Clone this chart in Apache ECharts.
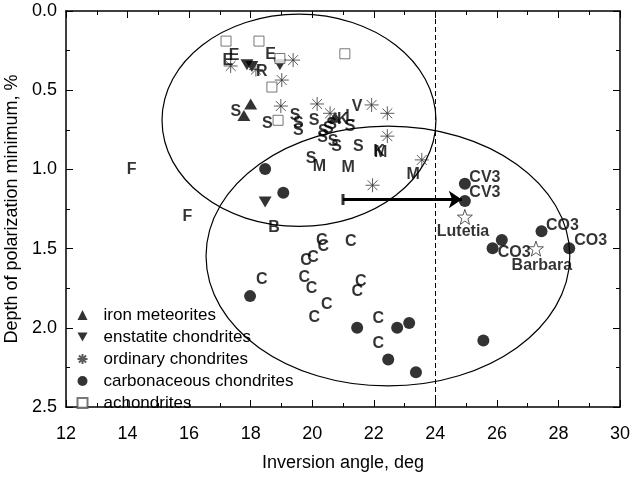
<!DOCTYPE html>
<html><head><meta charset="utf-8">
<script src="https://cdn.jsdelivr.net/npm/echarts@6.0.0/dist/echarts.min.js"></script>
<style>html,body{margin:0;padding:0;background:#fff}#c{width:631px;height:478px}</style>
</head><body><div id="c"></div>
<script>
// ---- data (x = inversion angle, deg; y = depth of polarization minimum, %) ----
const ironMeteorites = [[18.0,0.587],[17.78,0.66],[20.74,0.67]];
const enstatiteChondrites = [[17.88,0.34],[18.04,0.35],[18.95,0.34],[18.47,1.206]];
const ordinaryChondrites = [[17.35,0.347],[19.38,0.31],[19.01,0.436],[18.17,0.37],[18.98,0.60],[20.16,0.587],[20.58,0.646],[21.93,0.593],[22.44,0.646],[22.44,0.79],[23.56,0.94],[21.96,1.10]];
const carbonaceousChondrites = [[18.47,0.997],[19.06,1.147],[17.98,1.80],[21.46,2.0],[22.76,2.0],[23.15,1.97],[22.47,2.20],[23.37,2.28],[25.56,2.08],[24.96,1.09],[24.96,1.20],[26.16,1.446],[25.86,1.498],[27.45,1.39],[28.35,1.498]];
const achondrites = [[17.20,0.19],[18.27,0.19],[18.95,0.30],[21.06,0.27],[18.69,0.48],[18.89,0.69]];
const asteroids = [[24.96,1.30],[27.27,1.50]];
// taxonomic letters and names: [x, y, text]
const textLabels = [
  [17.26,0.31,'E'],[17.46,0.28,'E'],[18.65,0.278,'E'],[18.36,0.383,'R'],
  [17.52,0.636,'S'],[18.54,0.713,'S'],[19.44,0.663,'S'],[19.55,0.713,'S'],[19.55,0.756,'S'],[20.06,0.693,'S'],
  [20.36,0.762,'S'],[20.34,0.80,'S'],[20.52,0.74,'S'],[20.63,0.72,'S'],[20.68,0.825,'S'],[20.79,0.857,'S'],
  [21.23,0.73,'S'],[21.50,0.857,'S'],[19.96,0.93,'S'],
  [20.99,0.688,'K'],[21.23,0.667,'L'],[21.46,0.604,'V'],
  [22.17,0.89,'K'],[22.22,0.895,'M'],[20.23,0.98,'M'],[21.17,0.987,'M'],[23.28,1.03,'M'],
  [14.13,1.0,'F'],[15.94,1.30,'F'],[18.76,1.37,'B'],
  [20.31,1.45,'C'],[20.36,1.488,'C'],[21.25,1.456,'C'],[20.03,1.555,'C'],[19.80,1.576,'C'],[18.36,1.694,'C'],
  [19.74,1.681,'C'],[19.98,1.75,'C'],[21.58,1.709,'C'],[21.46,1.772,'C'],[20.47,1.856,'C'],[20.07,1.934,'C'],
  [22.15,1.944,'C'],[22.15,2.098,'C'],
  [25.61,1.054,'CV3'],[25.61,1.149,'CV3'],[28.13,1.355,'CO3'],[29.05,1.452,'CO3'],[26.56,1.526,'CO3'],
  [24.90,1.393,'Lutetia'],[27.46,1.61,'Barbara']
];
// ellipses: [centerX, centerY, radiusX, radiusY]
const ellipses = [[19.57,0.69,4.45,0.67],[22.46,1.547,5.91,0.82]];
const boundaryAngle = 24;
const arrowStart = [21.0,1.19];
const arrowEnd = [24.86,1.19];
const legendNames = ['iron meteorites','enstatite chondrites','ordinary chondrites','carbonaceous chondrites','achondrites'];

const FONT = 'Liberation Sans';
const chart = echarts.init(document.getElementById('c'));
const xBase = {type:'value',min:12,max:30,interval:2,splitLine:{show:false},
  axisLine:{onZero:false,lineStyle:{color:'#000',width:1.5}},
  axisTick:{inside:true,length:7,lineStyle:{color:'#000',width:1}},
  minorTick:{show:true,splitNumber:2,length:4,lineStyle:{color:'#000',width:1}}};
const yBase = {type:'value',min:0,max:2.5,interval:0.5,inverse:true,splitLine:{show:false},
  axisLine:{onZero:false,lineStyle:{color:'#000',width:1.5}},
  axisTick:{inside:true,length:7,lineStyle:{color:'#000',width:1}},
  minorTick:{show:true,splitNumber:2,length:4,lineStyle:{color:'#000',width:1}}};
const asterisk = 'path://M0,-10L0,10M-10,0L10,0M-7.07,-7.07L7.07,7.07M-7.07,7.07L7.07,-7.07';
const downTri = 'path://M0,0L10,0L5,9Z';

chart.setOption({
  animation:false,
  backgroundColor:'#fff',
  grid:{left:66,right:11,top:11,bottom:71,outerBoundsMode:'none',containLabel:false},
  xAxis:[
    Object.assign({},xBase,{position:'bottom',name:'Inversion angle, deg',nameLocation:'middle',nameGap:47,
      nameTextStyle:{color:'#000',fontSize:18,fontFamily:FONT},
      axisLabel:{color:'#000',fontSize:18,fontFamily:FONT,margin:18}}),
    Object.assign({},xBase,{position:'top',axisLabel:{show:false}})
  ],
  yAxis:[
    Object.assign({},yBase,{position:'left',name:'Depth of polarization minimum, %',nameLocation:'middle',nameGap:44,nameRotate:90,
      nameTextStyle:{color:'#000',fontSize:18,fontFamily:FONT},
      axisLabel:{color:'#000',fontSize:18,fontFamily:FONT,margin:9,formatter:v=>v.toFixed(1)}}),
    Object.assign({},yBase,{position:'right',axisLabel:{show:false}})
  ],
  legend:{data:legendNames,orient:'vertical',left:75,top:305,padding:0,itemWidth:10,itemHeight:10,itemGap:2,
    textStyle:{color:'#000',fontSize:17,fontFamily:FONT,lineHeight:20,padding:[0,0,0,11]}},
  series:[
    {type:'custom',name:'ellipses',data:ellipses,silent:true,z:1,
      renderItem:function(params,api){
        const c = api.coord([api.value(0),api.value(1)]);
        const s = api.size([api.value(2),api.value(3)]);
        return {type:'ellipse',shape:{cx:c[0],cy:c[1],rx:Math.abs(s[0]),ry:Math.abs(s[1])},
          style:{fill:'none',stroke:'#000',lineWidth:1.2}};
      },
      markLine:{silent:true,symbol:['none','none'],label:{show:false},
        lineStyle:{color:'#000',width:1,type:[5,3]},data:[{xAxis:boundaryAngle}]}
    },
    {type:'scatter',name:'iron meteorites',data:ironMeteorites,symbol:'triangle',symbolSize:[13,11],
      itemStyle:{color:'#000'},z:3},
    {type:'scatter',name:'enstatite chondrites',data:enstatiteChondrites,symbol:downTri,symbolSize:[13,11],
      itemStyle:{color:'#000'},z:3},
    {type:'scatter',name:'ordinary chondrites',data:ordinaryChondrites,symbol:asterisk,symbolSize:14,
      itemStyle:{color:'none',borderColor:'#333',borderWidth:1},z:3},
    {type:'scatter',name:'carbonaceous chondrites',data:carbonaceousChondrites,symbol:'circle',symbolSize:12,
      itemStyle:{color:'#000'},z:3,
      markLine:{silent:true,label:{show:false},symbol:['none','arrow'],symbolSize:13,
        lineStyle:{color:'#000',width:3,type:'solid'},
        data:[[{coord:arrowStart},{coord:arrowEnd}]]}},
    {type:'scatter',name:'achondrites',data:achondrites,symbol:'rect',symbolSize:10,
      itemStyle:{color:'#fff',borderColor:'#555',borderWidth:1},z:4},
    {type:'scatter',name:'arrowCap',data:[arrowStart],symbol:'rect',symbolSize:[3,11],itemStyle:{color:'#000'},z:3},
    {type:'scatter',name:'asteroids',data:asteroids,symbol:'path://M0,-10L2.35,-3.24L9.51,-3.09L3.8,1.24L5.88,8.09L0,4L-5.88,8.09L-3.8,1.24L-9.51,-3.09L-2.35,-3.24Z',
      symbolSize:15,itemStyle:{color:'#fff',borderColor:'#333',borderWidth:1},z:4},
    {type:'scatter',name:'labels',data:textLabels.map(d=>({value:[d[0],d[1]],name:d[2]})),symbolSize:1,
      itemStyle:{color:'rgba(0,0,0,0)'},z:5,
      label:{show:true,position:'inside',formatter:'{b}',color:'#000',fontSize:16,fontWeight:'bold',fontFamily:FONT}}
  ]
});
</script></body></html>
